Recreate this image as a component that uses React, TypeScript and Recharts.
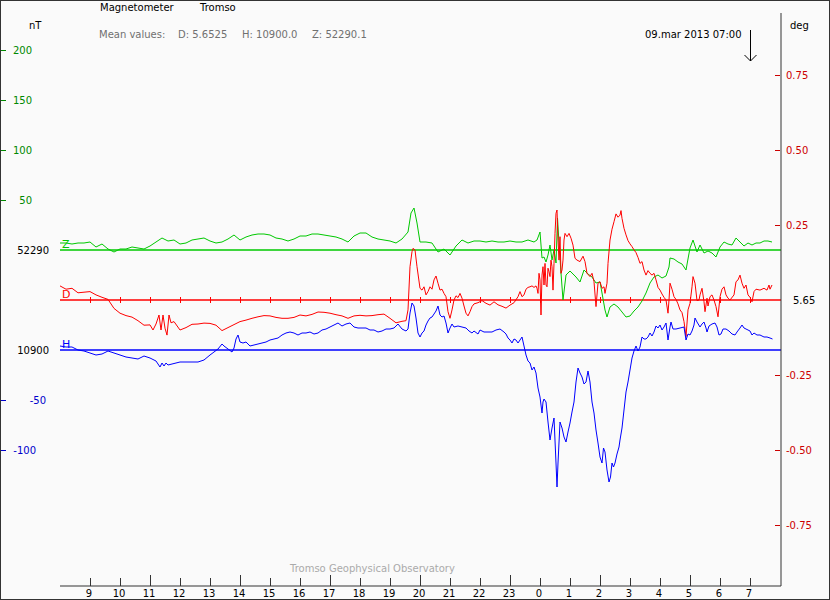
import React from 'react';
import { LineChart, Line, XAxis, YAxis, ReferenceLine, ReferenceDot } from 'recharts';

// ---- data (time = minutes after 08:00 UT, 8 Mar 2013) ----
const zReadings: number[][] = [
  [0,7],[12,7],[24,6],[36,7],[48,7],[60,8],[72,3],[84,6],[96,1],[108,-2],[120,1],[132,1],[144,3],[156,2],[168,1],[180,4],[192,8],[204,12],[216,9],[228,10],[240,6],[252,7],[264,10],[276,11],[288,12],[300,9],[312,7],[324,8],[336,11],[348,15],[360,10],
  [372,13],[384,15],[396,16],[408,16],[420,15],[432,12],[444,11],[456,9],[468,11],[480,14],[492,14],[504,16],[516,16],[528,15],[540,14],[552,13],[564,11],[576,8],[588,14],[600,17],[612,17],[624,13],[636,11],[648,10],[660,9],[672,7],[684,11],[696,18],[702,37],[708,42],[714,27],[720,8],
  [732,8],[744,7],[756,-2],[768,1],[780,-5],[792,4],[804,10],[816,7],[828,9],[840,9],[852,8],[864,9],[876,8],[888,8],[900,9],[912,8],[924,8],[936,10],[948,8],[954,10],[960,18],[964,-8],[968,-7],[972,-12],[976,-5],[980,5],[984,-10],[988,0],[992,-13],[995,32],[998,7],[1002,-23],[1006,-50],[1012,-25],[1020,-21],[1032,-27],[1040,-32],[1048,-20],[1056,-24],[1064,-27],[1072,-33],[1080,-32],
  [1084,-43],[1090,-60],[1094,-67],[1100,-57],[1108,-54],[1116,-57],[1124,-62],[1132,-67],[1140,-66],[1148,-61],[1156,-57],[1164,-51],[1172,-43],[1180,-33],[1188,-27],[1196,-25],[1204,-28],[1212,-26],[1218,-17],[1220,-8],[1228,-9],[1236,-12],[1244,-14],[1252,-20],[1260,2],[1266,10],[1274,-2],[1280,5],[1288,-3],[1296,-1],[1304,-3],[1312,-7],[1320,3],[1328,8],[1336,6],[1344,5],[1352,12],[1360,8],[1368,4],[1376,7],[1384,5],[1392,7],[1400,7],[1408,9],[1416,9],[1424,8],
];

const dReadings: number[][] = [
  [0,0.047],[12,0.036],[24,0.039],[36,0.024],[48,0.026],[60,0.028],[72,0.017],[84,0.009],[96,0.002],[108,-0.028],[120,-0.044],[132,-0.052],[144,-0.057],[156,-0.069],[168,-0.084],[180,-0.083],[186,-0.1],[192,-0.08],[198,-0.05],[202,-0.1],[206,-0.05],[210,-0.094],[214,-0.117],[218,-0.05],[222,-0.076],[228,-0.072],[240,-0.1],[252,-0.092],[264,-0.081],[276,-0.08],[288,-0.077],[300,-0.078],[312,-0.084],[324,-0.102],[336,-0.092],[348,-0.082],[360,-0.072],
  [372,-0.067],[384,-0.061],[396,-0.056],[408,-0.052],[420,-0.053],[432,-0.058],[444,-0.061],[456,-0.061],[468,-0.058],[480,-0.05],[492,-0.053],[504,-0.048],[516,-0.04],[528,-0.041],[540,-0.044],[552,-0.049],[564,-0.053],[576,-0.061],[588,-0.053],[600,-0.051],[612,-0.053],[624,-0.052],[636,-0.049],[648,-0.047],[660,-0.061],[672,-0.076],[684,-0.071],[692,-0.069],[696,-0.033],[700,0.111],[704,0.161],[706,0.172],[710,0.167],[714,0.111],[720,0.039],
  [724,0.033],[728,0.044],[732,0.017],[736,0.028],[740,0.044],[744,0.036],[748,0.067],[752,0.08],[756,0.056],[760,0.033],[764,0.036],[768,0.022],[772,0.011],[776,-0.039],[780,-0.061],[784,-0.033],[788,0],[792,0.014],[796,0.008],[800,0.022],[804,0.006],[808,-0.02],[812,-0.044],[816,-0.053],[820,-0.039],[824,-0.022],[828,-0.013],[836,-0.009],[844,-0.002],[852,-0.011],[860,-0.017],[868,-0.006],[876,-0.016],[884,-0.021],[892,-0.027],[900,-0.017],[908,-0.009],[916,0.011],[920,0.028],[924,0.011],[928,0.017],[932,0.036],[936,0.042],[940,0.044],[944,0.047],[948,0.042],[952,0.047],[954,0.039],[956,0.022],[958,0.089],[960,0.067],[962,-0.05],[964,0.083],[966,0.111],[968,0.05],[970,0.122],[972,0.05],[974,0.044],[976,0.106],[978,0.094],[980,0.078],[982,0.133],[984,0.111],[986,0.033],[988,0.122],[990,0.222],[992,0.289],[994,0.3],[996,0.2],[998,0.133],[1000,0.211],[1002,0.089],[1004,0.1],[1006,0.133],[1008,0.2],[1010,0.222],[1014,0.211],[1018,0.222],[1022,0.206],[1026,0.183],[1030,0.139],[1034,0.133],[1040,0.128],[1046,0.146],[1050,0.128],[1054,0.089],[1060,0.078],[1064,0.089],[1068,0.061],[1072,-0.022],[1076,0.056],[1080,0.061],
  [1084,0.039],[1088,0.044],[1090,0.022],[1094,0.056],[1096,0.122],[1100,0.2],[1104,0.236],[1108,0.261],[1112,0.287],[1116,0.276],[1120,0.283],[1122,0.298],[1124,0.272],[1128,0.239],[1132,0.217],[1136,0.198],[1140,0.187],[1144,0.178],[1148,0.167],[1152,0.158],[1156,0.142],[1160,0.122],[1164,0.128],[1168,0.1],[1172,0.083],[1176,0.098],[1180,0.089],[1184,0.083],[1188,0.089],[1192,0.067],[1196,0.042],[1200,0.033],[1204,0.02],[1208,0.009],[1212,0],[1216,-0.044],[1218,0],[1220,0.056],[1224,0.036],[1228,0.011],[1232,0.002],[1236,-0.013],[1240,-0.033],[1244,-0.042],[1248,-0.072],[1252,-0.122],[1256,-0.033],[1260,-0.011],[1264,0.044],[1266,0.078],[1270,0.056],[1274,-0.002],[1278,0],[1280,0.017],[1284,0.039],[1288,-0.006],[1290,-0.039],[1294,0.006],[1296,-0.02],[1300,0.011],[1304,0.017],[1308,0],[1312,-0.022],[1316,-0.056],[1320,0.011],[1324,0.036],[1328,0.044],[1332,0.017],[1336,0.006],[1340,0],[1348,0.017],[1352,0.061],[1356,0.067],[1360,0.083],[1364,0.056],[1368,0.039],[1372,0.05],[1376,0.017],[1380,0.009],[1384,-0.006],[1388,0.028],[1392,0.036],[1400,0.033],[1408,0.039],[1414,0.033],[1418,0.05],[1420,0.036],[1424,0.05],
];

const hReadings: number[][] = [
  [0,4],[12,3],[24,3],[36,0],[48,-1],[60,-3],[72,-5],[84,-4],[96,-1],[108,-3],[120,-5],[132,-7],[144,-8],[156,-9],[168,-6],[180,-8],[192,-11],[200,-17],[204,-13],[208,-16],[212,-13],[216,-15],[224,-14],[232,-13],[240,-12],[252,-12],[264,-12],[276,-12],[288,-10],[300,-5],[308,-2],[316,1],[324,6],[328,4],[336,1],[344,-2],[348,2],[352,11],[356,15],[360,8],
  [366,7],[372,8],[380,4],[388,5],[396,6],[404,7],[412,8],[420,10],[428,11],[436,12],[444,15],[452,17],[460,18],[468,17],[476,15],[484,17],[492,17],[500,18],[508,16],[516,17],[524,20],[532,21],[540,23],[548,25],[556,27],[564,24],[572,26],[580,27],[588,23],[596,22],[604,22],[612,22],[620,20],[628,20],[636,18],[644,19],[652,21],[660,21],[668,22],[676,26],[684,21],[692,19],[696,21],[700,37],[704,47],[708,44],[712,32],[716,17],[720,13],
  [724,17],[728,19],[732,25],[736,29],[740,32],[744,33],[748,36],[752,39],[756,44],[760,35],[764,33],[768,34],[772,27],[776,17],[780,22],[784,26],[788,23],[796,24],[804,23],[812,22],[818,19],[824,17],[828,19],[836,16],[840,20],[848,18],[856,18],[864,18],[872,20],[880,21],[888,18],[892,16],[896,12],[900,10],[904,7],[908,11],[912,10],[916,7],[920,10],[924,13],[928,4],[932,-5],[936,-11],[940,-13],[944,-20],[948,-17],[952,-23],[956,-38],[960,-47],[964,-63],[966,-52],[968,-49],[972,-52],[976,-72],[980,-90],[984,-78],[988,-68],[992,-113],[994,-137],[996,-113],[1000,-72],[1004,-78],[1008,-87],[1012,-92],[1016,-82],[1020,-73],[1024,-62],[1028,-52],[1032,-32],[1036,-18],[1040,-23],[1044,-27],[1048,-34],[1052,-32],[1056,-21],[1060,-32],[1064,-52],[1068,-63],[1072,-80],[1076,-93],[1080,-107],
  [1084,-113],[1087,-98],[1090,-102],[1094,-120],[1098,-132],[1101,-127],[1104,-113],[1107,-117],[1110,-113],[1114,-104],[1118,-97],[1120,-90],[1124,-78],[1128,-60],[1132,-42],[1136,-32],[1140,-20],[1144,-8],[1148,-1],[1152,4],[1156,-1],[1160,3],[1164,13],[1168,11],[1172,11],[1176,13],[1180,17],[1184,14],[1188,18],[1192,24],[1196,22],[1200,25],[1204,20],[1208,23],[1212,27],[1216,10],[1220,23],[1222,28],[1226,21],[1232,21],[1240,22],[1248,23],[1252,10],[1256,16],[1260,15],[1264,19],[1268,25],[1270,32],[1274,28],[1280,23],[1284,26],[1288,28],[1292,22],[1294,18],[1298,24],[1304,26],[1310,27],[1314,23],[1318,15],[1322,16],[1326,21],[1332,21],[1338,19],[1344,16],[1350,15],[1354,18],[1360,22],[1364,25],[1368,22],[1376,20],[1380,19],[1384,15],[1388,17],[1394,15],[1400,15],[1408,13],[1414,13],[1420,12],[1425,11],
];

const hourTicks = [60,120,180,240,300,360,420,480,540,600,660,720,780,840,900,960,1020,1080,1140,1200,1260,1320,1380];
const hourLabels = ['9','10','11','12','13','14','15','16','17','18','19','20','21','22','23','0','1','2','3','4','5','6','7'];

const nTTicks = [200,150,100,50,0,-100,-150,-200];
const nTLabels = ['200','150','100','50','52290','10900','-50','-100'];
const degTicks = [0.75,0.5,0.25,0,-0.25,-0.5,-0.75];
const degLabels = ['0.75','0.50','0.25','5.65','-0.25','-0.50','-0.75'];

const meanD = '5.6525';
const meanH = '10900.0';
const meanZ = '52290.1';
const stampText = '09.mar 2013 07:00';
const stampMinute = 1380;

const toRows = (r: number[][]) => r.map(([t, v]) => ({ t, v }));
const zRows = toRows(zReadings);
const dRows = toRows(dReadings);
const hRows = toRows(hReadings);

const FONT = '"DejaVu Sans", sans-serif';
const GREEN = '#00c800';
const RED = '#ff0000';
const BLUE = '#0000ff';
const FRAME = '#333333';

const BottomTick = (props: any) => {
  const { x, y, index } = props;
  const label = hourLabels[index];
  const h = Number(label);
  const len = h % 3 === 2 ? 11 : 8;
  return (
    <g>
      <line x1={x} x2={x} y1={y} y2={y - len} stroke={FRAME} shapeRendering="crispEdges" />
      <text x={x - 1} y={y + 11} textAnchor="middle" fontFamily={FONT} fontSize={10} fill="#000">{label}</text>
    </g>
  );
};

const TopTick = (props: any) => {
  const { x, y } = props;
  return <line x1={x} x2={x} y1={y} y2={y + 8} stroke={FRAME} shapeRendering="crispEdges" />;
};

const LeftTick = (props: any) => {
  const { x, y, index } = props;
  const v = nTTicks[index];
  const label = nTLabels[index];
  const isBase = v === 0 || v === -100;
  const color = isBase ? '#000' : v > 0 ? '#008800' : '#0000cc';
  const endX = isBase ? 49 : v === -150 ? 46 : v === -200 ? 36 : 32;
  return (
    <g>
      {!isBase && <line x1={x} x2={x + 6} y1={y} y2={y} stroke={color} shapeRendering="crispEdges" />}
      <text x={endX} y={y + 4} textAnchor="end" fontFamily={FONT} fontSize={10} fill={color}>{label}</text>
    </g>
  );
};

const RightTick = (props: any) => {
  const { x, y, index } = props;
  const v = degTicks[index];
  const label = degLabels[index];
  const isBase = v === 0;
  const color = isBase ? '#000' : '#cc0000';
  return (
    <g>
      {!isBase && <line x1={x - 6} x2={x - 1} y1={y} y2={y} stroke={color} shapeRendering="crispEdges" />}
      <text x={isBase ? x + 12 : x + 5} y={y + 4} textAnchor="start" fontFamily={FONT} fontSize={10} fill={color}>{label}</text>
    </g>
  );
};

const BaseTick = (props: any) => {
  const { cx, cy } = props;
  return <line x1={cx} x2={cx} y1={cy - 3} y2={cy + 3} stroke={RED} shapeRendering="crispEdges" />;
};

const StampArrow = (props: any) => {
  const { cx } = props;
  const x = Math.round(cx) + 0.5;
  return (
    <g>
      <text x={x - 9} y={38} textAnchor="end" fontFamily={FONT} fontSize={10} fill="#000">{stampText}</text>
      <line x1={x} x2={x} y1={30} y2={61} stroke="#000" />
      <polyline points={`${x - 6},${55} ${x},${61} ${x + 6},${55}`} fill="none" stroke="#000" />
    </g>
  );
};

const letterLabel = (value: string, fill: string) => ({
  value, position: 'insideBottomLeft' as const, offset: 2, fill, fontSize: 11, fontFamily: FONT,
});

export default function App() {
  return (
    <div style={{ position: 'fixed', left: 0, top: 0, width: 830, height: 600, background: '#fafafa', overflow: 'hidden' }}>
      <LineChart width={830} height={600} margin={{ top: 13, right: 0, bottom: 0, left: 0 }}>
        <XAxis xAxisId="b" dataKey="t" type="number" domain={[0, 1442]} allowDataOverflow ticks={hourTicks} interval={0}
          orientation="bottom" height={14} axisLine={{ stroke: FRAME }} tickLine={false} tickSize={0} tickMargin={0} tick={BottomTick} />
        <XAxis xAxisId="top" dataKey="t" type="number" domain={[0, 1442]} allowDataOverflow ticks={hourTicks} interval={0}
          orientation="top" height={0} axisLine={{ stroke: FRAME }} tickLine={false} tickSize={0} tickMargin={0} tick={TopTick} />
        <YAxis yAxisId="nT" type="number" domain={[-336, 237]} allowDataOverflow ticks={nTTicks} interval={0} width={60}
          axisLine={{ stroke: FRAME }} tickLine={false} tickSize={0} tickMargin={0} tick={LeftTick} />
        <YAxis yAxisId="deg" type="number" orientation="right" domain={[-0.95333, 0.95667]} allowDataOverflow ticks={degTicks} interval={0} width={49}
          axisLine={{ stroke: FRAME }} tickLine={false} tickSize={0} tickMargin={0} tick={RightTick} />
        <YAxis yAxisId="H" type="number" domain={[-236, 337]} allowDataOverflow hide />

        <ReferenceLine xAxisId="b" yAxisId="nT" y={0} stroke={GREEN} strokeWidth={1.5} label={letterLabel('Z', GREEN)} />
        <ReferenceLine xAxisId="b" yAxisId="deg" y={0} stroke={RED} strokeWidth={1.5} label={letterLabel('D', RED)} />
        <ReferenceLine xAxisId="b" yAxisId="H" y={0} stroke={BLUE} strokeWidth={1.5} label={letterLabel('H', BLUE)} />
        {hourTicks.map((t) => (
          <ReferenceDot key={t} xAxisId="b" yAxisId="deg" x={t} y={0} shape={BaseTick} />
        ))}
        <ReferenceDot xAxisId="b" yAxisId="nT" x={stampMinute} y={200} shape={StampArrow} />

        <Line xAxisId="b" yAxisId="nT" data={zRows} dataKey="v" stroke={GREEN} strokeWidth={1} dot={false} activeDot={false} isAnimationActive={false} />
        <Line xAxisId="b" yAxisId="deg" data={dRows} dataKey="v" stroke={RED} strokeWidth={1} dot={false} activeDot={false} isAnimationActive={false} />
        <Line xAxisId="b" yAxisId="H" data={hRows} dataKey="v" stroke={BLUE} strokeWidth={1} dot={false} activeDot={false} isAnimationActive={false} />
      </LineChart>
      <svg width={830} height={600} style={{ position: 'absolute', left: 0, top: 0, pointerEvents: 'none' }}>
        <rect x={0.5} y={0.5} width={829} height={599} fill="none" stroke={FRAME} />
        <text x={100} y={11} fontFamily={FONT} fontSize={10} fill="#000">Magnetometer</text>
        <text x={200} y={11} fontFamily={FONT} fontSize={10} fill="#000">Tromso</text>
        <text x={29} y={29} fontFamily={FONT} fontSize={10} fill="#000">nT</text>
        <text x={790} y={29} fontFamily={FONT} fontSize={10} fill="#000">deg</text>
        <text x={99} y={38} fontFamily={FONT} fontSize={10} fill="#707070">Mean values:</text>
        <text x={178} y={38} fontFamily={FONT} fontSize={10} fill="#707070">{`D: ${meanD}`}</text>
        <text x={242} y={38} fontFamily={FONT} fontSize={10} fill="#707070">{`H: ${meanH}`}</text>
        <text x={312} y={38} fontFamily={FONT} fontSize={10} fill="#707070">{`Z: ${meanZ}`}</text>
        <text x={290} y={572} fontFamily={FONT} fontSize={10} fill="#aaaaaa">Tromso Geophysical Observatory</text>
      </svg>
    </div>
  );
}
